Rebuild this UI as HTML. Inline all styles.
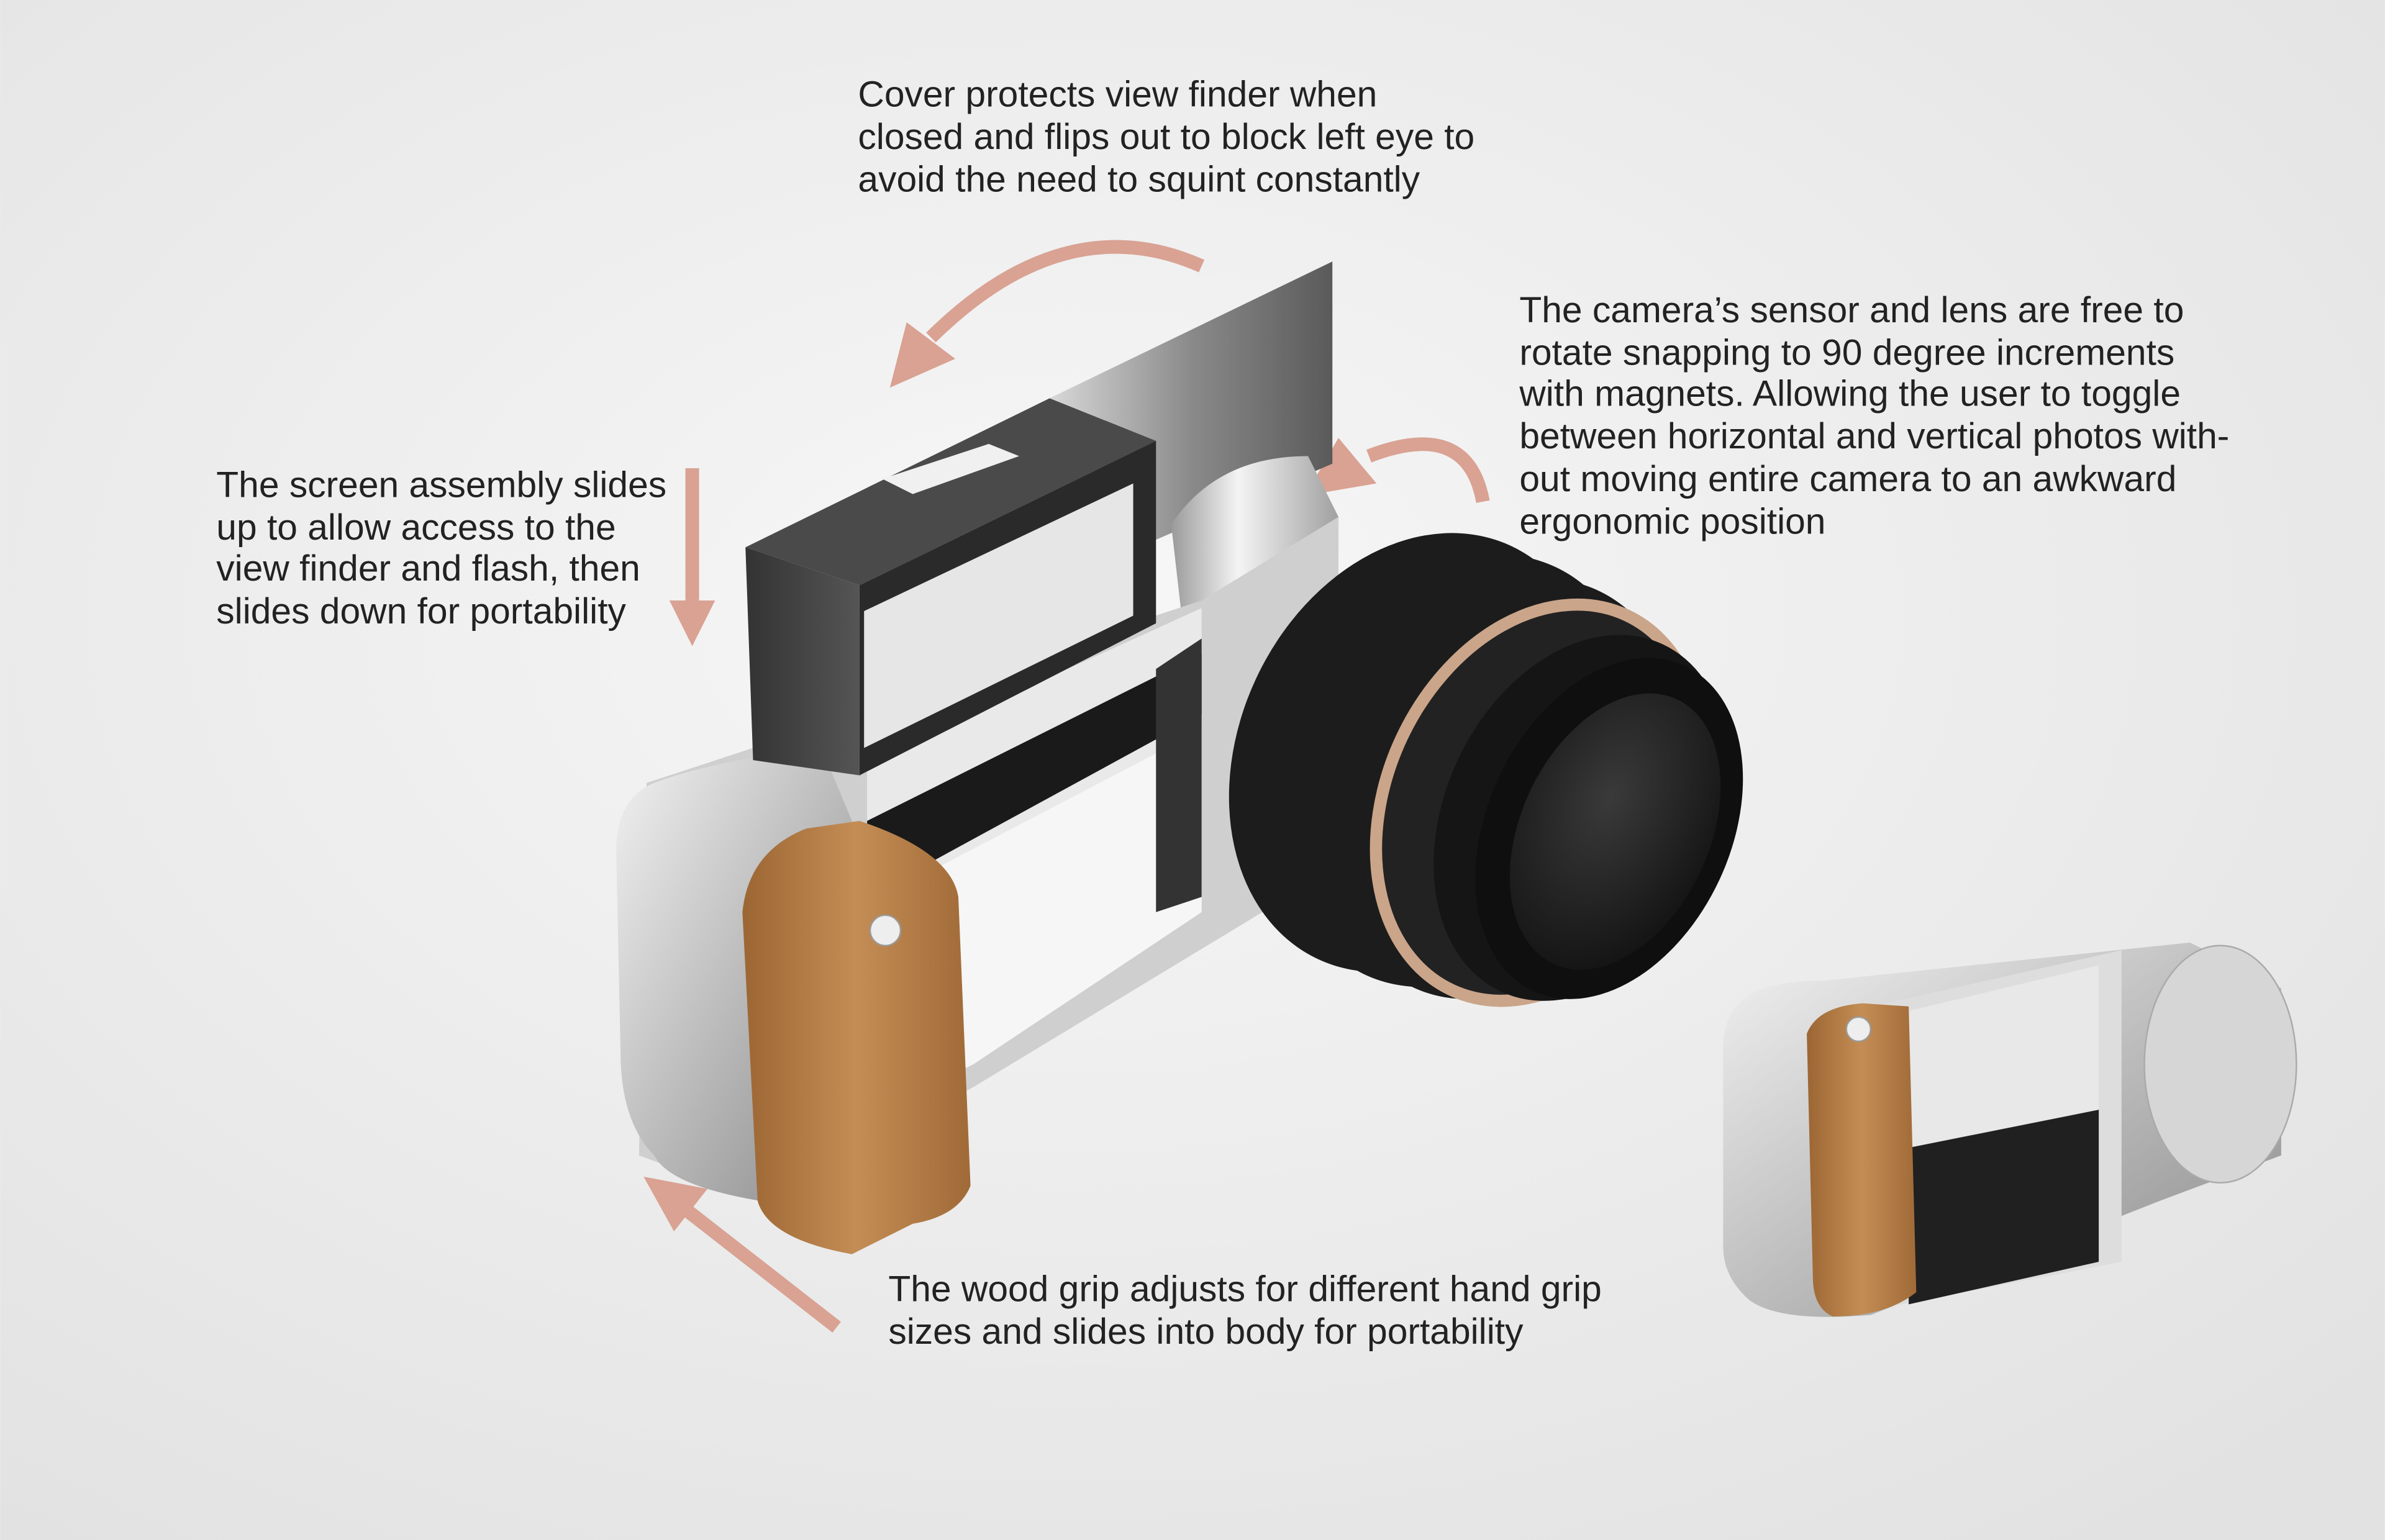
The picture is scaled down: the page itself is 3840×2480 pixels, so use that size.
<!DOCTYPE html>
<html><head><meta charset="utf-8"><style>
html,body{margin:0;padding:0;width:3840px;height:2480px;overflow:hidden;background:#ececec}
svg{display:block}
text{font-family:"Liberation Sans",sans-serif;font-size:24px;fill:#222}
</style></head><body>
<svg width="3840" height="2480" viewBox="0 0 1568 1013" xmlns="http://www.w3.org/2000/svg">
<defs>
<radialGradient id="bg" cx="0.45" cy="0.4" r="0.75"><stop offset="0" stop-color="#f7f7f7"/><stop offset="1" stop-color="#e2e2e2"/></radialGradient>
<linearGradient id="silver" x1="0" y1="0" x2="1" y2="1"><stop offset="0" stop-color="#f2f2f2"/><stop offset="0.5" stop-color="#bdbdbd"/><stop offset="1" stop-color="#8a8a8a"/></linearGradient>
<linearGradient id="silver2" x1="0" y1="0" x2="1" y2="0"><stop offset="0" stop-color="#9a9a9a"/><stop offset="0.4" stop-color="#f4f4f4"/><stop offset="1" stop-color="#a0a0a0"/></linearGradient>
<linearGradient id="dark" x1="0" y1="0" x2="1" y2="0"><stop offset="0" stop-color="#333"/><stop offset="1" stop-color="#555"/></linearGradient>
<linearGradient id="wood" x1="0" y1="0" x2="1" y2="0"><stop offset="0" stop-color="#9c6634"/><stop offset="0.5" stop-color="#c48d55"/><stop offset="1" stop-color="#a06a38"/></linearGradient>
<linearGradient id="cover" x1="0" y1="0" x2="1" y2="0"><stop offset="0" stop-color="#d8d8d8"/><stop offset="0.5" stop-color="#8a8a8a"/><stop offset="1" stop-color="#5a5a5a"/></linearGradient>
<radialGradient id="glass" cx="0.4" cy="0.4" r="0.7"><stop offset="0" stop-color="#3a3a3a"/><stop offset="1" stop-color="#111"/></radialGradient>
</defs>
<rect width="1568" height="1013" fill="url(#bg)"/>

<!-- arrows -->
<g fill="none" stroke="#d9a293" stroke-width="9">
<path d="M790 175 Q700 135 612 222"/>
<path d="M455 308 L455 395"/>
<path d="M975 330 Q965 275 900 300"/>
<path d="M550 873 L450 795"/>
</g>
<g fill="#d9a293">
<polygon points="585,255 596,212 628,236"/>
<polygon points="440,395 470,395 455,425"/>
<polygon points="858,326 880,288 905,318"/>
<polygon points="423,774 465,782 443,810"/>
</g>

<!-- main camera -->
<polygon points="690,262 876,172 876,305 760,355" fill="url(#cover)"/>
<path d="M770 345 Q800 300 860 300 L880 340 L830 560 L790 520 Z" fill="url(#silver2)"/>
<polygon points="425,515 790,395 880,340 880,520 830,600 640,715 500,790 420,760" fill="#cfcfcf"/>
<polygon points="570,500 790,400 790,595 570,700" fill="#e9e9e9"/>
<polygon points="570,540 790,430 790,470 570,590" fill="#1a1a1a"/>
<polygon points="560,600 790,480 790,600 640,700 560,740" fill="#f6f6f6"/>
<polygon points="760,440 790,420 790,590 760,600" fill="#333"/>
<path d="M430 515 Q470 500 540 492 L560 540 L500 790 Q440 780 430 760 Q410 740 408 700 L405 560 Q405 525 430 515 Z" fill="url(#silver)"/>
<polygon points="490,360 690,262 760,290 565,385" fill="#4a4a4a"/>
<polygon points="490,360 565,385 565,510 495,500" fill="url(#dark)"/>
<polygon points="565,385 760,290 760,410 565,510" fill="#2a2a2a"/>
<polygon points="568,402 745,318 745,405 568,492" fill="#e6e6e6"/>
<polygon points="580,315 650,292 670,300 600,325" fill="#f0f0f0"/>
<path d="M488 600 Q492 560 530 545 L565 540 Q625 560 630 590 L638 780 Q630 800 600 805 L560 825 Q505 815 498 790 Z" fill="url(#wood)"/>
<circle cx="582" cy="612" r="10" fill="#eee" stroke="#999"/>
<!-- lens -->
<g fill="#1c1c1c">
<ellipse cx="930" cy="495" rx="115" ry="150" transform="rotate(25 930 495)"/>
<ellipse cx="960" cy="507" rx="112" ry="148" transform="rotate(25 960 507)"/>
<ellipse cx="990" cy="519" rx="108" ry="144" transform="rotate(25 990 519)"/>
</g>
<ellipse cx="1012" cy="528" rx="100" ry="136" transform="rotate(25 1012 528)" fill="#222" stroke="#caa58a" stroke-width="8"/>
<ellipse cx="1040" cy="538" rx="90" ry="126" transform="rotate(25 1040 538)" fill="#151515"/>
<ellipse cx="1058" cy="545" rx="80" ry="118" transform="rotate(25 1058 545)" fill="#0f0f0f"/>
<ellipse cx="1062" cy="547" rx="62" ry="96" transform="rotate(25 1062 547)" fill="url(#glass)"/>

<!-- small camera -->
<path d="M1150 655 Q1165 645 1200 645 L1440 620 L1500 650 L1500 760 L1420 790 L1230 865 Q1170 870 1150 855 Q1133 840 1133 820 L1133 690 Q1133 665 1150 655 Z" fill="url(#silver)"/>
<polygon points="1240,660 1395,625 1395,830 1240,860" fill="#ddd"/>
<polygon points="1255,665 1380,635 1380,730 1255,755" fill="#e8e8e8"/>
<polygon points="1255,755 1380,730 1380,830 1255,858" fill="#202020"/>
<path d="M1188 680 Q1195 662 1225 660 L1255 662 L1260 850 Q1240 866 1205 866 Q1192 860 1192 840 Z" fill="url(#wood)"/>
<circle cx="1222" cy="677" r="8" fill="#eee" stroke="#999"/>
<ellipse cx="1460" cy="700" rx="50" ry="78" fill="#d6d6d6" stroke="#aaa"/>

<!-- texts -->
<text x="564" y="70">Cover protects view finder when</text>
<text x="564" y="98">closed and flips out to block left eye to</text>
<text x="564" y="126">avoid the need to squint constantly</text>
<text x="999" y="212">The camera’s sensor and lens are free to</text>
<text x="999" y="240">rotate snapping to 90 degree increments</text>
<text x="999" y="267">with magnets. Allowing the user to toggle</text>
<text x="999" y="295">between horizontal and vertical photos with-</text>
<text x="999" y="323">out moving entire camera to an awkward</text>
<text x="999" y="351">ergonomic position</text>
<text x="142" y="327">The screen assembly slides</text>
<text x="142" y="355">up to allow access to the</text>
<text x="142" y="382">view finder and flash, then</text>
<text x="142" y="410">slides down for portability</text>
<text x="584" y="856">The wood grip adjusts for different hand grip</text>
<text x="584" y="884">sizes and slides into body for portability</text>
</svg>
</body></html>
